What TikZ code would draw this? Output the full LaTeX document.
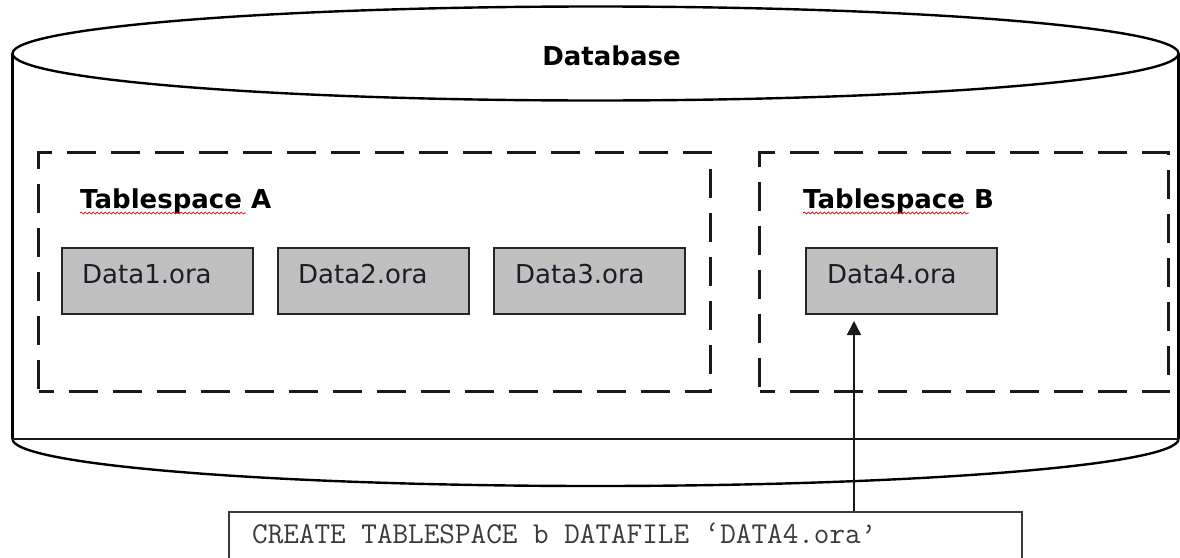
\documentclass[tikz,border=0pt]{standalone}
\usepackage{fontspec}
\setmainfont{DejaVu Sans}
\usetikzlibrary{arrows.meta,decorations.pathmorphing}
\definecolor{filegray}{HTML}{C0C0C0}
\definecolor{txtdark}{HTML}{1C1C28}
\definecolor{codegray}{HTML}{3A3A3A}
\begin{document}
\begin{tikzpicture}[x=1pt,y=-1pt,
  outline/.style={line width=2.4pt, draw=black},
  tsbox/.style={draw=black!90, line width=3.2pt, dash pattern=on 29pt off 15pt, dash phase=14pt},
  filebox/.style={draw=black!85, line width=1.5pt, fill=filegray, minimum width=191pt, minimum height=66pt, inner sep=0pt, anchor=north west},
  filetext/.style={text=txtdark, font=\fontsize{26}{30}\selectfont, inner sep=0pt, anchor=base west},
  boldlabel/.style={text=black, font=\fontsize{26}{30}\selectfont\bfseries, inner sep=0pt},
  squiggle/.style={draw=red!85!black, line width=0.7pt, decorate, decoration={snake, amplitude=1pt, segment length=4pt}},
  arrowline/.style={draw=black!90, line width=1.6pt, -{Triangle[length=14pt,width=14pt]}}
]
\useasboundingbox (0,0) rectangle (1180,557);
\clip (0,0) rectangle (1180,557);
\fill[white] (0,0) rectangle (1180,557);

% cylinder
\draw[outline] (12.5,53.5) -- (12.5,439);
\draw[outline] (1178.5,53.5) -- (1178.5,439);
\draw[outline] (595.5,53.5) ellipse [x radius=583, y radius=47];
\draw[outline] (12.5,439) arc[start angle=180, end angle=0, x radius=583, y radius=47];
\draw[line width=2pt, draw=black!90] (12.5,439) -- (1178.5,439);

\node[boldlabel, anchor=base] (db) at (611.5,65) {Database};

% tablespaces
\node[tsbox, anchor=north west, minimum width=672pt, minimum height=239pt, inner sep=0pt] (tsA) at (37,151) {};
\node[tsbox, anchor=north west, minimum width=409pt, minimum height=239pt, inner sep=0pt] (tsB) at (758,151) {};

\node[boldlabel, anchor=base west] (lA) at (80,208) {Tablespace A};
\node[boldlabel, anchor=base west] (lB) at (803,208) {Tablespace B};
\draw[squiggle] (80,213) -- (246,213);
\draw[squiggle] (803,213) -- (969,213);

% data files
\node[filebox] (d1) at (61,247) {};
\node[filebox] (d2) at (277,247) {};
\node[filebox] (d3) at (493,247) {};
\node[filebox] (d4) at (805,247) {};
\node[filetext] (t1) at (82,283) {Data1.ora};
\node[filetext] (t2) at (298,283) {Data2.ora};
\node[filetext] (t3) at (515,283) {Data3.ora};
\node[filetext] (t4) at (827,283) {Data4.ora};

% command box
\node[draw=codegray, line width=1.5pt, anchor=north west, minimum width=793pt, minimum height=80pt, inner sep=0pt] (cmd) at (228,511) {};
\node[text=codegray, font=\ttfamily\fontsize{30.3}{33}\selectfont, inner sep=0pt, anchor=base west] (code) at (252,543) {CREATE TABLESPACE b DATAFILE ‘DATA4.ora’};

\coordinate (tip) at (854,321);
\draw[arrowline] (cmd.north -| tip) -- (tip);
\end{tikzpicture}
\end{document}
